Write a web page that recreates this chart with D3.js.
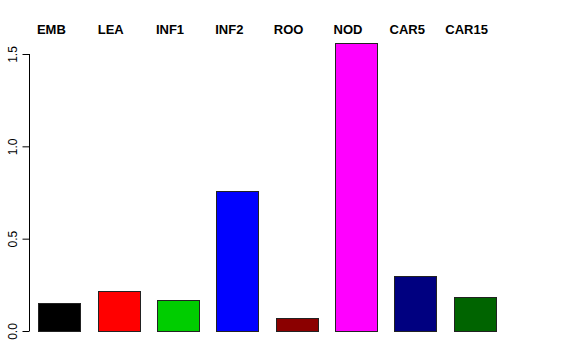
<!DOCTYPE html>
<html>
<head>
<meta charset="utf-8">
<script src="https://cdn.jsdelivr.net/npm/d3@7"></script>
<style>
  body { margin: 0; background: #fff; }
  text { font-family: "Liberation Sans", Arial, sans-serif; }
</style>
</head>
<body>
<svg width="576" height="360"></svg>
<script>
var categories = ["EMB", "LEA", "INF1", "INF2", "ROO", "NOD", "CAR5", "CAR15"];
var values = [0.153, 0.215, 0.168, 0.758, 0.069, 1.560, 0.298, 0.182];
var colors = ["#000000", "#ff0000", "#00cd00", "#0000ff", "#8b0000", "#ff00ff", "#000080", "#006400"];
var yTicks = [0, 0.5, 1, 1.5];

var svg = d3.select("svg"),
    margin = { top: 54, left: 29 };

// y: 0 at 331, 1.5 at 54
var y = d3.scaleLinear().domain([0, 1.5]).range([331, 54]);

var x = d3.scaleBand()
    .domain(categories)
    .range([30, 504])
    .paddingInner(0.29)
    .paddingOuter(0.14);

var g = svg.append("g");

g.selectAll(".bar")
    .data(categories)
    .enter().append("rect")
    .attr("class", "bar")
    .attr("x", function (d) { return Math.round(x(d)) + 0.5; })
    .attr("y", function (d, i) { return Math.round(y(values[i])) + 0.5; })
    .attr("width", Math.round(x.bandwidth()))
    .attr("height", function (d, i) { return Math.round(y(0)) - Math.round(y(values[i])); })
    .attr("fill", function (d, i) { return colors[i]; })
    .attr("stroke", "#222")
    .attr("stroke-width", 1);

// category labels on top
g.selectAll(".lab")
    .data(categories)
    .enter().append("text")
    .attr("class", "lab")
    .attr("x", function (d) { return x(d) + x.bandwidth() / 2 - 8; })
    .attr("y", 34)
    .attr("text-anchor", "middle")
    .style("font-size", "13px")
    .style("font-weight", "bold")
    .text(function (d) { return d; });

// y axis
var yAxis = d3.axisLeft(y)
    .tickValues(yTicks)
    .tickSize(7)
    .tickPadding(0)
    .tickFormat(d3.format(".1f"));

var ax = svg.append("g")
    .attr("transform", "translate(" + (margin.left + 0.5) + ",0)")
    .call(yAxis);

ax.select(".domain").attr("d", "M0," + y(0) + "V" + y(1.5)).attr("stroke", "#000");
ax.selectAll(".tick line").attr("stroke", "#000");
ax.selectAll(".tick text")
    .attr("transform", "rotate(-90)")
    .attr("x", 0)
    .attr("y", -13)
    .attr("dy", 0)
    .attr("text-anchor", "middle")
    .style("font-family", "'Liberation Sans', Arial, sans-serif")
    .style("font-size", "12px")
    .attr("fill", "#000");
</script>
</body>
</html>
